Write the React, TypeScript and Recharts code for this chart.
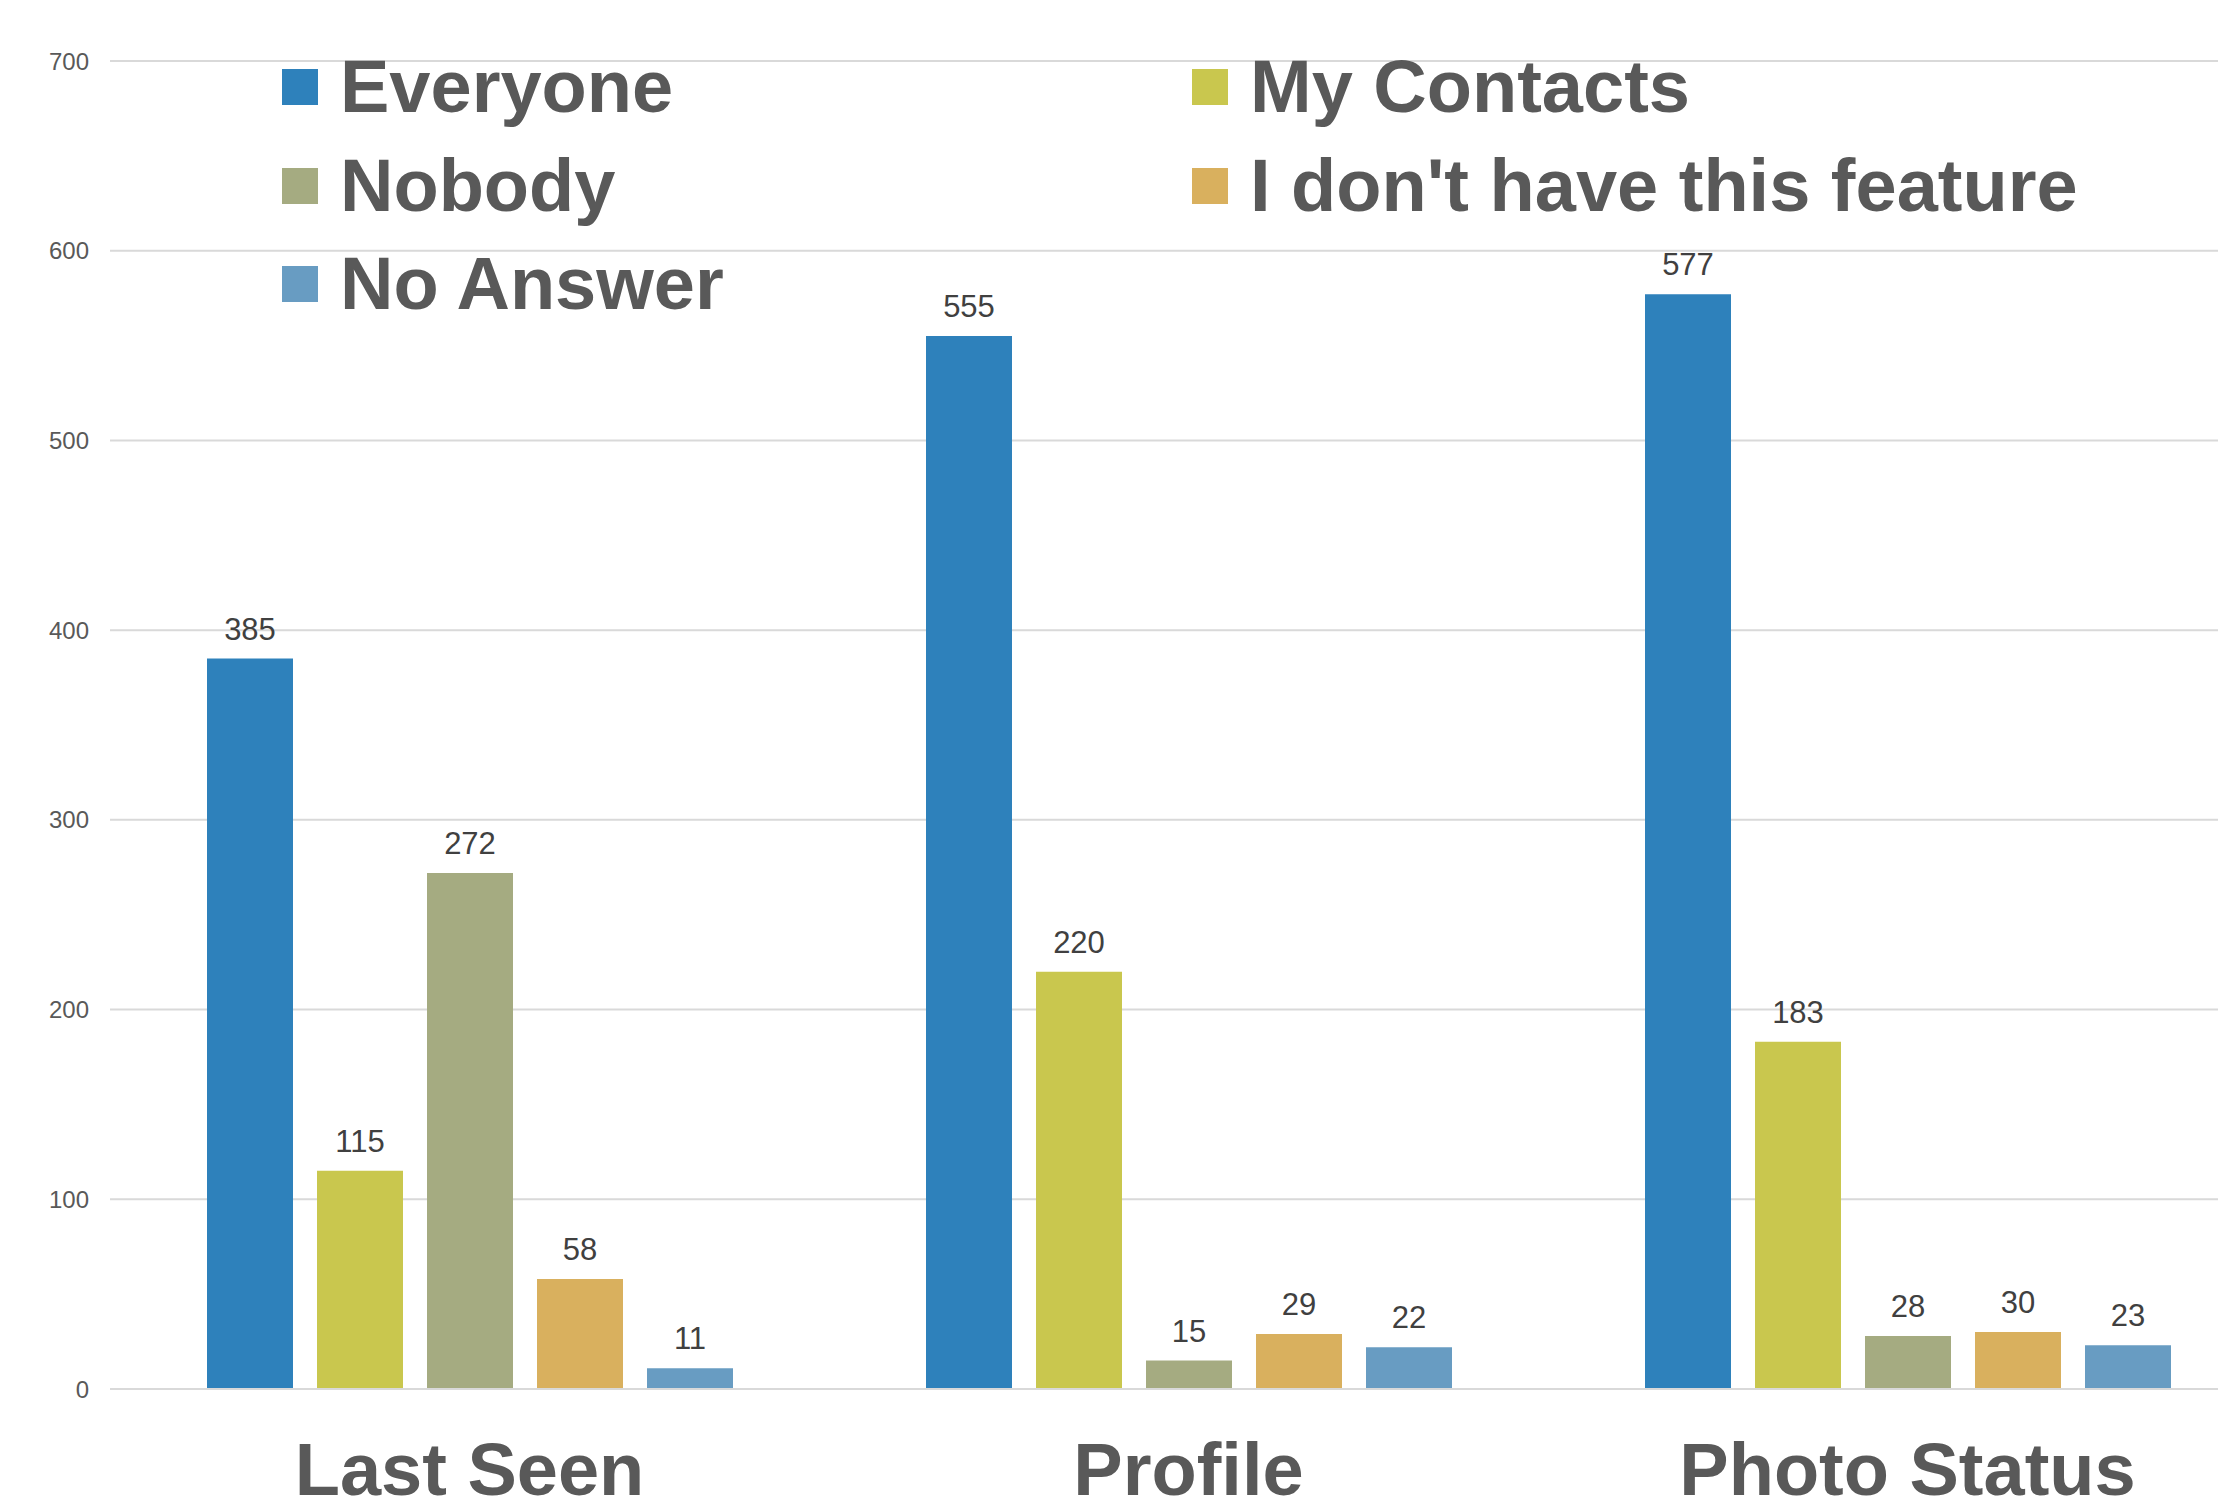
import { Bar, BarChart, CartesianGrid, LabelList, Legend, XAxis, YAxis } from 'recharts';

const categories = ['Last Seen', 'Profile', 'Photo Status'];
const everyone = [385, 555, 577];
const myContacts = [115, 220, 183];
const nobody = [272, 15, 28];
const noFeature = [58, 29, 30];
const noAnswer = [11, 22, 23];
const yTicks = [0, 100, 200, 300, 400, 500, 600, 700];

const SERIES = [
  { key: 'everyone', name: 'Everyone', color: '#2e81bb', values: everyone },
  { key: 'myContacts', name: 'My Contacts', color: '#c9c74e', values: myContacts },
  { key: 'nobody', name: 'Nobody', color: '#a5ab81', values: nobody },
  { key: 'noFeature', name: "I don't have this feature", color: '#d9b05e', values: noFeature },
  { key: 'noAnswer', name: 'No Answer', color: '#689cc2', values: noAnswer },
];

const FONT = '"Liberation Sans", Arial, sans-serif';
const TEXT = '#595959';

const chartData = categories.map((category, i) => {
  const row: Record<string, string | number> = { category };
  SERIES.forEach((s) => {
    row[s.key] = s.values[i];
  });
  return row;
});

// 2 columns, filled row by row like the original (placed explicitly)
function BigLegend({ payload }: { payload?: Array<{ value: string; color: string }> }) {
  return (
    <div
      style={{
        display: 'grid',
        gridTemplateColumns: '910px 910px',
        gridTemplateRows: '98.5px 98.5px 98.5px',
        fontFamily: FONT,
      }}
    >
      {(payload ?? []).map((item) => {
        const idx = SERIES.findIndex((s) => s.name === item.value);
        return (
          <div
            key={item.value}
            style={{
              display: 'flex',
              alignItems: 'center',
              gridColumn: (idx % 2) + 1,
              gridRow: Math.floor(idx / 2) + 1,
            }}
          >
            <span style={{ width: 36, height: 36, background: item.color, marginRight: 22, flex: 'none' }} />
            <span style={{ fontSize: 74, fontWeight: 700, color: TEXT, lineHeight: '74px', whiteSpace: 'nowrap' }}>
              {item.value}
            </span>
          </div>
        );
      })}
    </div>
  );
}

export default function App() {
  return (
    <div
      style={{
        position: 'absolute',
        left: 0,
        top: 0,
        width: 2218,
        height: 1511,
        overflow: 'hidden',
        background: '#fff',
        fontFamily: FONT,
      }}
    >
      <BarChart
        width={2300}
        height={1511}
        data={chartData}
        margin={{ top: 61, right: 33, left: 0, bottom: 0 }}
        barSize={86}
        barGap={24}
      >
        <CartesianGrid vertical={false} stroke="#d9d9d9" strokeWidth={2} />
        <XAxis
          dataKey="category"
          height={122}
          tickSize={0}
          tickMargin={53}
          axisLine={{ stroke: '#d9d9d9', strokeWidth: 2 }}
          tick={{ fontSize: 74, fontWeight: 700, fill: TEXT, fontFamily: FONT }}
        />
        <YAxis
          width={110}
          domain={[0, 700]}
          ticks={yTicks}
          axisLine={false}
          tickLine={false}
          tickSize={0}
          tickMargin={21}
          tick={{ fontSize: 24, fill: TEXT, fontFamily: FONT }}
        />
        <Legend
          layout="vertical"
          align="center"
          verticalAlign="middle"
          wrapperStyle={{ top: 38, left: 282, width: 1820 }}
          content={(props: any) => <BigLegend payload={props.payload} />}
        />
        {SERIES.map((s) => (
          <Bar key={s.key} dataKey={s.key} name={s.name} fill={s.color} isAnimationActive={false}>
            <LabelList
              dataKey={s.key}
              position="top"
              offset={19}
              style={{ fontSize: 31, fill: '#404040', fontFamily: FONT }}
            />
          </Bar>
        ))}
      </BarChart>
    </div>
  );
}
